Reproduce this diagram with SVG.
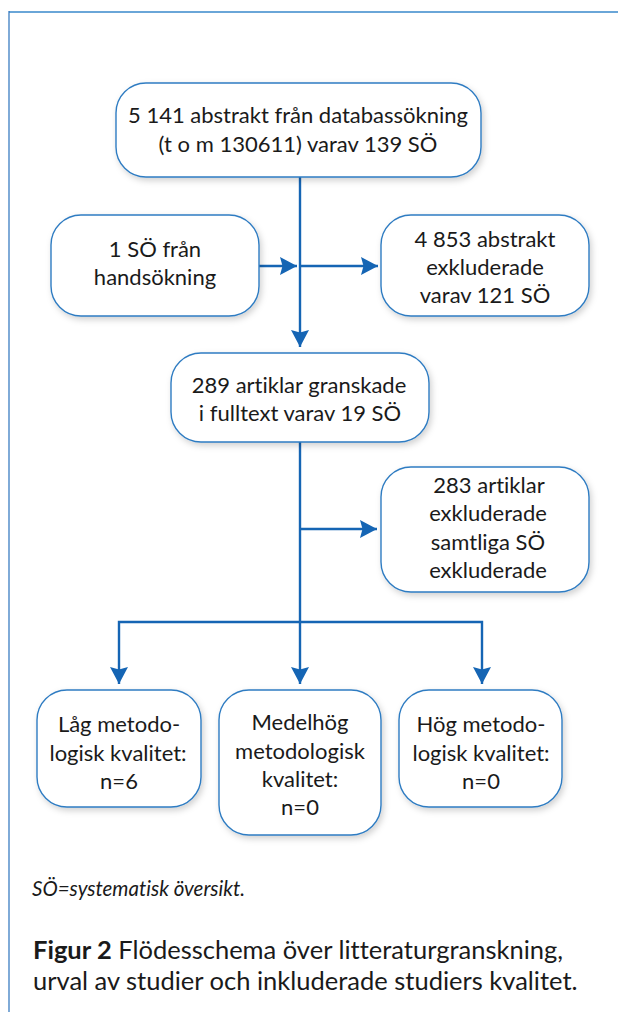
<svg xmlns="http://www.w3.org/2000/svg" width="618" height="1012" viewBox="0 0 618 1012">
<style>
text{font-variant-ligatures:none;font-feature-settings:"liga" 0,"clig" 0,"dlig" 0}
.box{fill:#ffffff;stroke:#2f7cc2;stroke-width:1.4;filter:url(#sh)}
.t{font-family:Lato,"Open Sans","Liberation Sans",sans-serif;font-size:22px;fill:#1a1a1a;text-anchor:middle}
.c{fill:none;stroke:#1565b4;stroke-width:2.4}
.cap{font-family:Lato,"Open Sans","Liberation Sans",sans-serif;font-size:25.5px;fill:#1a1a1a}
.fn{font-family:Lato,"Open Sans","Liberation Sans",sans-serif;font-size:20.5px;font-style:italic;fill:#1a1a1a}
</style>
<defs>
<filter id="sh" x="-10%" y="-10%" width="125%" height="130%">
<feDropShadow dx="2" dy="3" stdDeviation="3" flood-color="#000" flood-opacity="0.18"/>
</filter>
<marker id="ah" viewBox="0 0 17 18" refX="17" refY="9" markerWidth="17" markerHeight="18" orient="auto" markerUnits="userSpaceOnUse">
<path d="M0,0 L17,9 L0,18 L2.5,9 Z" fill="#1565b4"/>
</marker>
</defs>
<rect width="618" height="1012" fill="#ffffff"/>
<g id="frame">
<line x1="9" y1="12" x2="618" y2="12" stroke="#6aa6d8" stroke-width="2"/>
<line x1="9" y1="11" x2="9" y2="1012" stroke="#2a72bd" stroke-width="1.2"/>
</g>
<g id="connectors">
<path class="c" d="M300,177 V347" marker-end="url(#ah)"/>
<path class="c" d="M259,266 H297" marker-end="url(#ah)"/>
<path class="c" d="M300,266 H378" marker-end="url(#ah)"/>
<path class="c" d="M300,442 V684" marker-end="url(#ah)"/>
<path class="c" d="M300,529 H377" marker-end="url(#ah)"/>
<path class="c" d="M300,622 H119 V684" marker-end="url(#ah)"/>
<path class="c" d="M300,622 H482 V684" marker-end="url(#ah)"/>
</g>
<g id="n1">
<rect class="box" x="116" y="83" width="365" height="94" rx="30"/>
<text class="t" x="298" y="123">5 141 abstrakt från databassökning</text>
<text class="t" x="298" y="152">(t o m 130611) varav 139 SÖ</text>
</g>
<g id="n2">
<rect class="box" x="51" y="215" width="208" height="101" rx="30"/>
<text class="t" x="155" y="257">1 SÖ från</text>
<text class="t" x="155" y="285">handsökning</text>
</g>
<g id="n3">
<rect class="box" x="381" y="215" width="208" height="101" rx="30"/>
<text class="t" x="485" y="247">4 853 abstrakt</text>
<text class="t" x="485" y="275">exkluderade</text>
<text class="t" x="485" y="303">varav 121 SÖ</text>
</g>
<g id="n4">
<rect class="box" x="171" y="353" width="258" height="89" rx="30"/>
<text class="t" x="299" y="393">289 artiklar granskade</text>
<text class="t" x="300" y="421">i fulltext varav 19 SÖ</text>
</g>
<g id="n5">
<rect class="box" x="381" y="467" width="208" height="125" rx="30"/>
<text class="t" x="489" y="493">283 artiklar</text>
<text class="t" x="488" y="521">exkluderade</text>
<text class="t" x="488" y="550">samtliga SÖ</text>
<text class="t" x="488" y="578">exkluderade</text>
</g>
<g id="n6">
<rect class="box" x="37" y="690" width="164" height="117" rx="30"/>
<text class="t" x="119" y="732">Låg metodo-</text>
<text class="t" x="118" y="761">logisk kvalitet:</text>
<text class="t" x="119" y="789">n=6</text>
</g>
<g id="n7">
<rect class="box" x="219" y="690" width="162" height="145" rx="30"/>
<text class="t" x="300" y="730">Medelhög</text>
<text class="t" x="300" y="759">metodologisk</text>
<text class="t" x="300" y="787">kvalitet:</text>
<text class="t" x="300" y="815">n=0</text>
</g>
<g id="n8">
<rect class="box" x="399" y="690" width="163" height="117" rx="30"/>
<text class="t" x="481" y="732">Hög metodo-</text>
<text class="t" x="481" y="761">logisk kvalitet:</text>
<text class="t" x="481" y="789">n=0</text>
</g>
<g id="notes">
<text class="fn" x="32" y="896">SÖ=systematisk översikt.</text>
<text class="cap" x="33" y="959"><tspan font-weight="bold">Figur 2</tspan> Flödesschema över litteraturgranskning,</text>
<text class="cap" x="33" y="990">urval av studier och inkluderade studiers kvalitet.</text>
</g>
</svg>
